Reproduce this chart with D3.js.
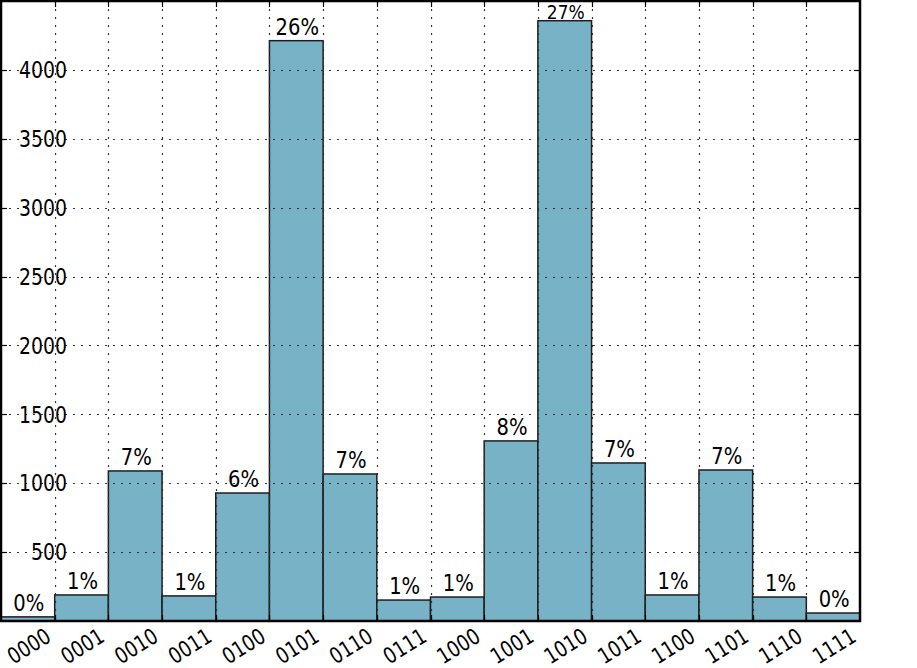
<!DOCTYPE html>
<html>
<head>
<meta charset="utf-8">
<script src="https://cdn.jsdelivr.net/npm/d3@7"></script>
<style>
  html, body { margin: 0; padding: 0; background: #fff; }
  svg { display: block; }
  text { font-family: "DejaVu Sans", sans-serif; fill: #000; }
</style>
</head>
<body>
<svg id="chart" width="917" height="668"></svg>
<script>
const categories = ["0000","0001","0010","0011","0100","0101","0110","0111",
                    "1000","1001","1010","1011","1100","1101","1110","1111"];
const counts = [30, 189, 1089, 182, 929, 4212, 1067, 152,
                174, 1307, 4357, 1147, 189, 1096, 174, 58];
const yTicks = [500, 1000, 1500, 2000, 2500, 3000, 3500, 4000];

const plot = { left: 1, top: 1, right: 860, bottom: 621 };
const svg = d3.select("#chart");
const SX = 0.82; // horizontal squeeze of the text glyphs

const x = d3.scaleBand().domain(categories).range([plot.left, plot.right]).padding(0);
const y = d3.scaleLinear().domain([0, 4500]).range([plot.bottom, plot.top]);
const total = d3.sum(counts);

// bars
svg.append("g").selectAll("rect").data(categories).join("rect")
  .attr("x", d => x(d))
  .attr("y", (d, i) => y(counts[i]))
  .attr("width", x.bandwidth())
  .attr("height", (d, i) => y(0) - y(counts[i]))
  .attr("fill", "#78b2c7")
  .attr("stroke", "#1e1e1e")
  .attr("stroke-width", 1.5);

// grid (drawn above bars)
const grid = svg.append("g").attr("stroke", "#333").attr("stroke-width", 1.2)
  .attr("stroke-dasharray", "2,6").attr("fill", "none");
grid.selectAll("line.h").data(yTicks).join("line").attr("class", "h")
  .attr("x1", plot.left).attr("x2", plot.right)
  .attr("y1", d => Math.round(y(d)) + 0.5).attr("y2", d => Math.round(y(d)) + 0.5);
const edges = categories.slice(1).map(c => x(c));
grid.selectAll("line.v").data(edges).join("line").attr("class", "v")
  .attr("x1", d => Math.round(d) + 0.5).attr("x2", d => Math.round(d) + 0.5)
  .attr("y1", plot.top).attr("y2", plot.bottom);

// ticks (inward)
const ticks = svg.append("g").attr("stroke", "#000").attr("stroke-width", 1.2);
yTicks.forEach(t => {
  const yy = Math.round(y(t)) + 0.5;
  ticks.append("line").attr("x1", plot.left).attr("x2", plot.left + 6).attr("y1", yy).attr("y2", yy);
  ticks.append("line").attr("x1", plot.right - 6).attr("x2", plot.right).attr("y1", yy).attr("y2", yy);
});
edges.forEach(e => {
  const xx = Math.round(e) + 0.5;
  ticks.append("line").attr("x1", xx).attr("x2", xx).attr("y1", plot.top).attr("y2", plot.top + 6);
  ticks.append("line").attr("x1", xx).attr("x2", xx).attr("y1", plot.bottom - 6).attr("y2", plot.bottom);
});

// y tick labels
svg.append("g").selectAll("text").data(yTicks).join("text")
  .attr("transform", d => `translate(67,${y(d)}) scale(${SX},1)`)
  .attr("text-anchor", "end").attr("dominant-baseline", "central")
  .attr("font-size", 23)
  .text(d => d);

// percentage labels
svg.append("g").selectAll("text").data(categories).join("text")
  .each(function(d, i) {
    const top = y(counts[i]);
    let base = top - 6, size = 23;
    if (base < 19) { base = 19; size = 20; }
    d3.select(this)
      .attr("transform", `translate(${x(d) + x.bandwidth() / 2 + 1},${base}) scale(${SX + 0.03},1)`)
      .attr("font-size", size)
      .attr("text-anchor", "middle")
      .text(Math.round(counts[i] / total * 100) + "%");
  });

// x tick labels (rotated)
svg.append("g").selectAll("text").data(categories).join("text")
  .attr("transform", d => `translate(${x(d) + x.bandwidth() / 2 + 1},646) rotate(-32) scale(${SX},1)`)
  .attr("text-anchor", "middle").attr("dominant-baseline", "central")
  .attr("font-size", 22)
  .text(d => d);

// frame
svg.append("rect")
  .attr("x", plot.left).attr("y", plot.top)
  .attr("width", plot.right - plot.left).attr("height", plot.bottom - plot.top)
  .attr("fill", "none").attr("stroke", "#000").attr("stroke-width", 2.5);
</script>
</body>
</html>
